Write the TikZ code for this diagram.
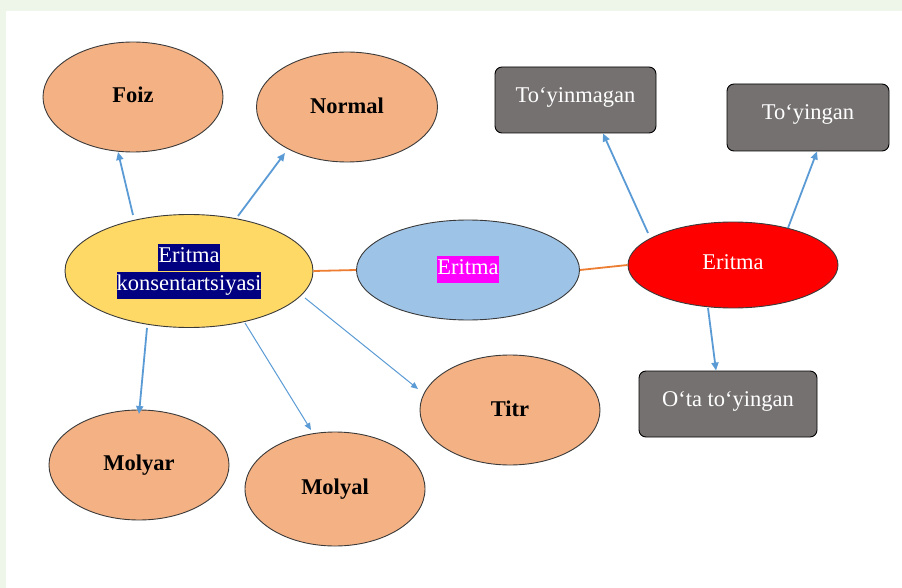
\documentclass[tikz,border=0pt]{standalone}
\usepackage{fontspec}
\setmainfont{Liberation Serif}
\usetikzlibrary{shapes.geometric,arrows.meta}
\definecolor{bggreen}{HTML}{EEF5E9}
\definecolor{peach}{HTML}{F4B183}
\definecolor{goldy}{HTML}{FFD966}
\definecolor{skyb}{HTML}{9DC3E6}
\definecolor{greybox}{HTML}{767171}
\definecolor{arrowblue}{HTML}{5B9BD5}
\definecolor{lineorange}{HTML}{ED7D31}
\definecolor{navyhl}{HTML}{000080}
\definecolor{magentahl}{HTML}{FF00FF}
\definecolor{outl}{HTML}{3A3A3A}
\newcommand{\hl}[2]{{\setlength{\fboxsep}{0pt}\colorbox{#1}{\strut #2}}}
\tikzset{
  x=1pt,y=-1pt,
  every node/.style={font=\fontsize{22.5}{27}\selectfont},
  oval/.style={ellipse, draw=outl, line width=0.9pt, inner sep=0pt, align=center},
  measure/.style={oval, fill=peach, minimum width=180pt, minimum height=110pt, font=\fontsize{22.5}{27}\selectfont\bfseries},
  greyrect/.style={rectangle, rounded corners=7pt, draw=black, line width=0.9pt, fill=greybox, text=white, inner sep=0pt},
  bluearrow/.style={draw=arrowblue, line width=1.8pt, -{Triangle[length=8pt,width=7pt]}},
  thinarrow/.style={draw=arrowblue, line width=1pt, -{Triangle[length=7pt,width=6pt]}},
  orangeline/.style={draw=lineorange, line width=1.8pt}
}
\begin{document}
\begin{tikzpicture}
\fill[bggreen] (0,0) rectangle (902,588);
\fill[white] (6,11) rectangle (902,588);
\useasboundingbox (0,0) rectangle (902,588);

% concentration ellipses
\node[measure] (foiz) at (133,97) {\raisebox{4pt}{Foiz}};
\node[measure, minimum width=181pt] (normal) at (347,107) {\raisebox{3pt}{Normal}};
\node[measure] (molyar) at (139,465) {\raisebox{2pt}{Molyar}};
\node[measure, minimum height=114pt] (molyal) at (335,489) {Molyal};
\node[measure] (titr) at (510,410) {\raisebox{3pt}{Titr}};

% central ellipses
\node[oval, fill=goldy, minimum width=248pt, minimum height=113pt, text=white] (konc) at (189,271)
  {\raisebox{6pt}{\shortstack{\hl{navyhl}{Eritma}\\[-2pt]\hl{navyhl}{konsentartsiyasi}}}};
\node[oval, fill=skyb, minimum width=223pt, minimum height=100pt, text=white] (blue) at (468,270)
  {\raisebox{9pt}{\hl{magentahl}{Eritma}}};
\node[oval, fill=red, minimum width=210pt, minimum height=86pt, text=white] (red) at (733,265)
  {\raisebox{6pt}{Eritma}};

% grey boxes
\node[greyrect, minimum width=161pt, minimum height=66pt] (toyinmagan) at (575.5,100)
  {\raisebox{10pt}{To‘yinmagan}};
\node[greyrect, minimum width=162pt, minimum height=67pt] (toyingan) at (808,117.5)
  {\raisebox{10pt}{To‘yingan}};
\node[greyrect, minimum width=178pt, minimum height=66pt] (ota) at (728,404)
  {\raisebox{10pt}{O‘ta to‘yingan}};

% connectors
\coordinate (kfoiz) at (133,215);
\coordinate (knormal) at (238,216);
\coordinate (kmolyar) at (147,328);
\coordinate (kmolyal) at (245,323);
\coordinate (ktitr) at (305,298);
\draw[bluearrow] (kfoiz) -- (118,152);
\draw[bluearrow] (knormal) -- (285,153);
\draw[bluearrow] (kmolyar) -- (139,414);
\draw[thinarrow] (kmolyal) -- (311,430);
\draw[thinarrow] (ktitr) -- (418,389);

\draw[orangeline] (konc.east) -- (blue.west);
\draw[orangeline] (blue.east) -- (red.west);

\coordinate (rtop1) at (648,233);
\coordinate (rtop2) at (788,228);
\coordinate (rbot) at (708,308);
\draw[bluearrow] (rtop1) -- (toyinmagan.south -| 603,0);
\draw[bluearrow] (rtop2) -- (toyingan.south -| 817,0);
\draw[bluearrow] (rbot) -- (ota.north -| 716,0);
\end{tikzpicture}
\end{document}
